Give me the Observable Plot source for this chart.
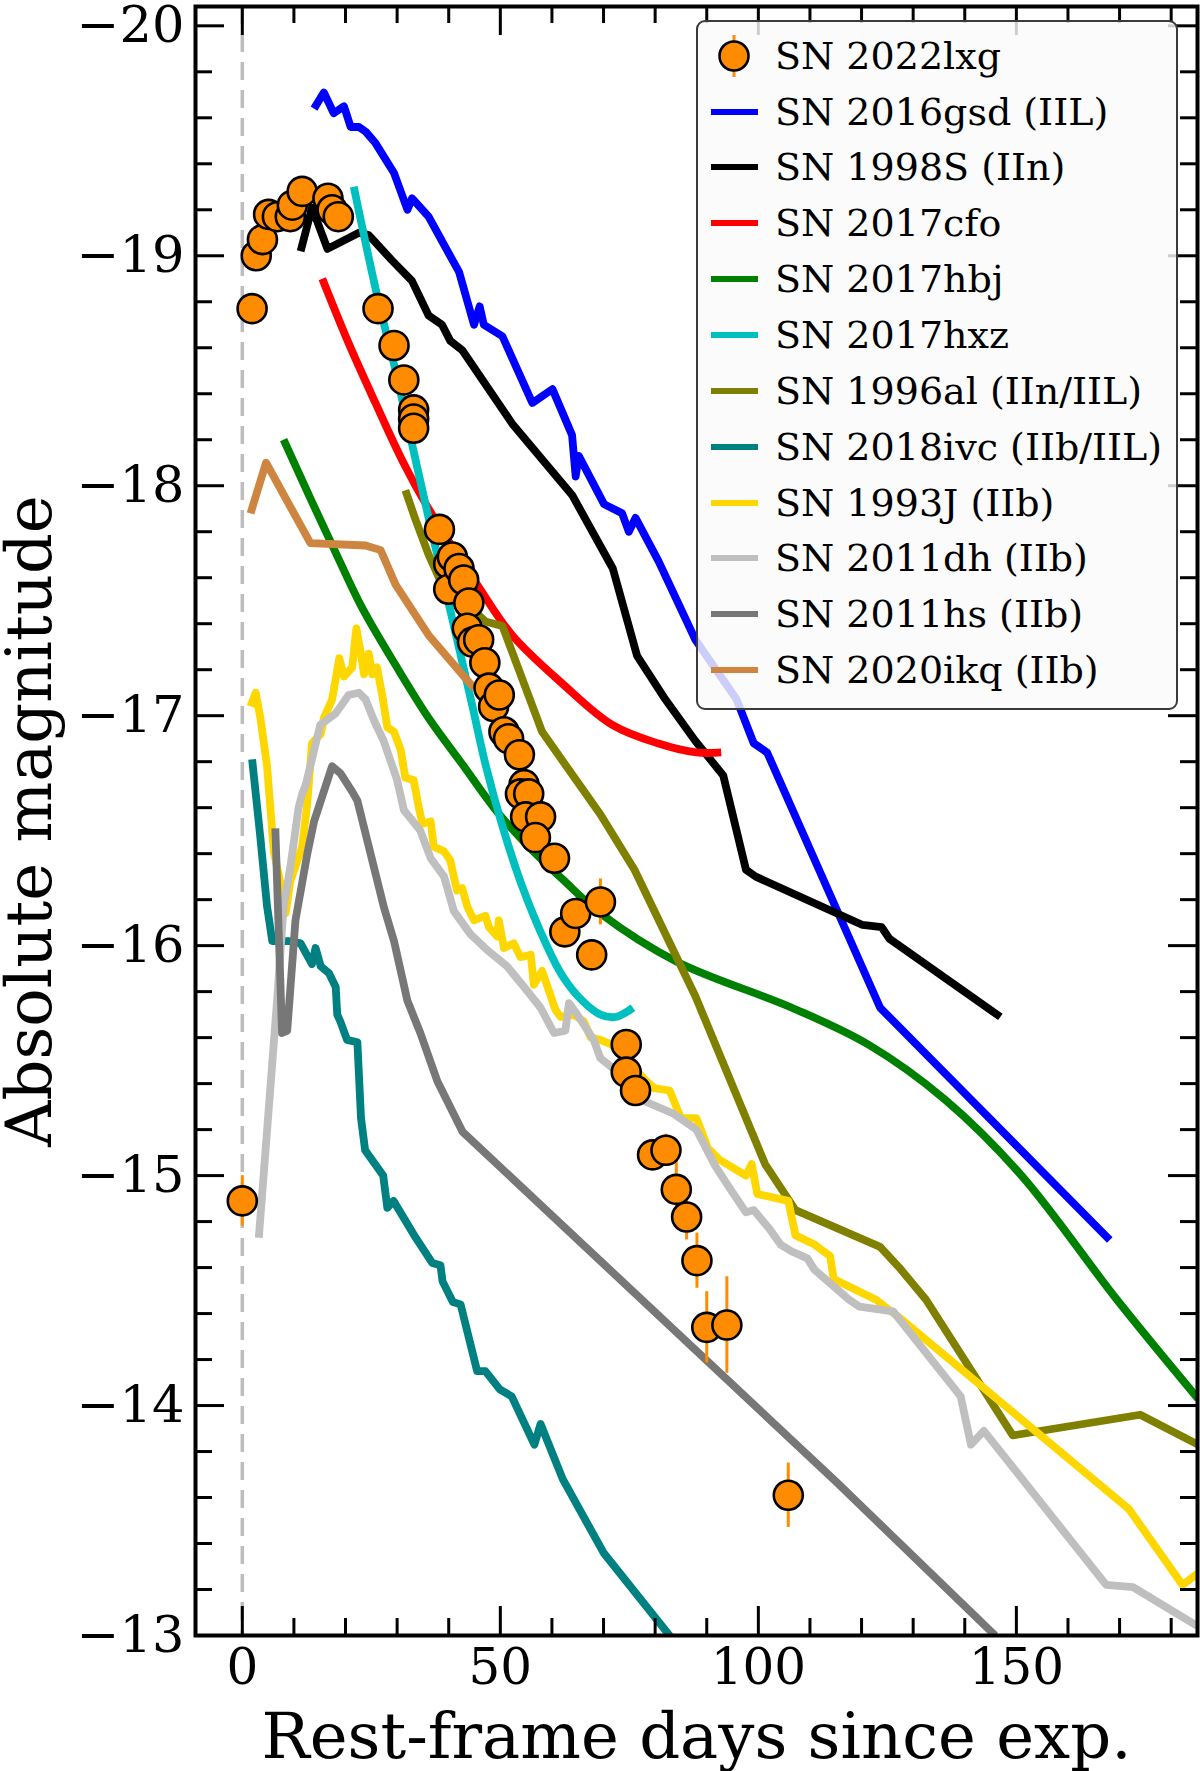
<!DOCTYPE html>
<html>
<head>
<meta charset="utf-8">
<script src="https://cdn.jsdelivr.net/npm/d3@7"></script>
<script src="https://cdn.jsdelivr.net/npm/@observablehq/plot@0.6"></script>
<style>
  body { margin: 0; background: #fff; }
  #chart { position: relative; width: 1200px; height: 1771px; }
  #legend {
    position: absolute; left: 696px; top: 20px; width: 478px; height: 686px;
    border: 2px solid #3a3a3a; border-radius: 9px; background: rgba(250,250,250,0.82);
    font-family: "DejaVu Serif", serif; font-size: 38px; color: #000;
  }
  .row { position: absolute; left: 0; height: 0; }
  .sw { position: absolute; left: 13px; width: 47px; height: 6px; top: -3px; }
  .lab { position: absolute; left: 77px; top: -25px; line-height: 50px; white-space: nowrap; }
  .mk { position: absolute; left: 18px; top: -25px; }
</style>
</head>
<body>
<div id="chart"></div>
<script>
// SN 2022lxg photometry (rest-frame days, absolute mag, error)
const lxgT = [0.0, 1.9, 2.7, 3.9, 5.1, 6.8, 9.3, 9.7, 11.6, 16.6, 17.4, 18.6, 26.3, 29.4, 31.3, 33.2, 33.2, 33.2,
  38.2, 40.0, 40.0, 40.7, 42.0, 42.9, 43.9, 43.6, 44.6, 45.8, 47.0, 47.8, 48.7, 49.8, 50.7, 51.6, 53.7, 54.6, 53.9,
  55.5, 54.9, 57.8, 56.8, 60.5, 62.5, 64.6, 67.7, 69.4, 74.4, 74.4, 76.2, 79.5, 82.1, 84.1, 86.1, 88.1, 90.0, 93.9, 105.8];
const lxgM = [-14.89, -18.77, -19.00, -19.07, -19.18, -19.17, -19.17, -19.22, -19.28, -19.25, -19.20, -19.17, -18.77, -18.61, -18.46, -18.33, -18.29, -18.25,
  -17.81, -17.66, -17.55, -17.69, -17.64, -17.59, -17.49, -17.38, -17.32, -17.33, -17.23, -17.12, -17.04, -17.09, -16.93, -16.90, -16.83, -16.70, -16.66,
  -16.66, -16.56, -16.56, -16.47, -16.38, -16.06, -16.14, -15.96, -16.19, -15.57, -15.45, -15.37, -15.09, -15.11, -14.94, -14.82, -14.63, -14.34, -14.35, -13.61];
const lxgE = [0.11, 0.03, 0.03, 0.03, 0.03, 0.03, 0.03, 0.03, 0.03, 0.03, 0.03, 0.03, 0.03, 0.03, 0.03, 0.03, 0.03, 0.03,
  0.03, 0.03, 0.03, 0.03, 0.03, 0.03, 0.03, 0.03, 0.03, 0.03, 0.03, 0.03, 0.03, 0.03, 0.03, 0.03, 0.03, 0.03, 0.03,
  0.03, 0.03, 0.03, 0.03, 0.03, 0.03, 0.03, 0.03, 0.10, 0.03, 0.03, 0.03, 0.05, 0.07, 0.14, 0.10, 0.12, 0.155, 0.21, 0.14];

// comparison light curves: [day, mag]
const sn2016gsd = [[13.9,-19.64],[15.8,-19.71],[17.7,-19.62],[19.7,-19.65],[21.0,-19.56],[22.6,-19.56],[23.9,-19.54],[25.8,-19.49],
  [29.4,-19.36],[32.0,-19.20],[32.9,-19.25],[36.1,-19.17],[41.0,-18.97],[42.0,-18.93],[44.9,-18.70],[46.0,-18.78],[46.8,-18.70],
  [50.4,-18.65],[56.2,-18.36],[60.1,-18.42],[63.9,-18.22],[64.6,-18.04],[65.2,-18.13],[70.1,-17.92],[73.6,-17.88],[74.9,-17.80],
  [76.2,-17.86],[80.7,-17.67],[87.8,-17.33],[95.8,-17.07],[99.1,-16.88],[101.7,-16.84],[123.6,-15.73],[168.1,-14.72]];
const sn1998S = [[11.3,-19.02],[13.5,-19.21],[16.5,-19.03],[22.6,-19.10],[24.5,-19.09],[29.0,-18.98],[32.9,-18.89],[36.1,-18.74],
  [38.7,-18.70],[40.3,-18.63],[42.6,-18.59],[52.3,-18.27],[63.9,-17.96],[71.8,-17.64],[76.5,-17.26],[82.0,-17.07],[87.8,-16.89],
  [93.2,-16.74],[97.6,-16.33],[99.5,-16.30],[120.2,-16.09],[123.9,-16.08],[125.4,-16.03],[146.9,-15.69]];
const sn2017cfo = [[15.5,-18.90],[20.6,-18.62],[25.8,-18.36],[31.0,-18.11],[36.1,-17.90],[45.8,-17.56],[52.3,-17.35],[62.0,-17.14],
  [71.7,-16.96],[80.5,-16.88],[88.0,-16.84],[92.8,-16.84]];
const sn2017hbj = [[8.0,-18.20],[13.5,-17.93],[18.7,-17.68],[23.2,-17.47],[29.7,-17.22],[36.1,-16.99],[42.6,-16.79],[49.1,-16.59],
  [55.5,-16.43],[62.0,-16.29],[69.4,-16.14],[84.2,-15.93],[106.5,-15.73],[121.3,-15.57],[136.2,-15.33],[151.0,-15.00],
  [169.5,-14.46],[185.2,-14.03]];
const sn2017hxz = [[21.6,-19.30],[26.1,-18.83],[29.7,-18.50],[32.9,-18.18],[36.1,-17.86],[40.7,-17.42],[44.6,-17.04],[47.1,-16.79],
  [50.4,-16.52],[54.2,-16.26],[58.8,-16.01],[62.0,-15.87],[65.9,-15.76],[69.4,-15.70],[72.4,-15.69],[75.7,-15.73]];
const sn1996al = [[31.6,-17.98],[33.6,-17.85],[36.1,-17.70],[38.1,-17.60],[47.1,-17.41],[50.4,-17.39],[58.1,-16.93],[69.4,-16.57],
  [76.0,-16.33],[87.8,-15.78],[101.3,-15.05],[107.2,-14.85],[123.6,-14.69],[127.3,-14.60],[132.5,-14.46],[149.3,-13.87],
  [174.0,-13.96],[185.2,-13.83]];
const sn2018ivc = [[1.9,-16.81],[3.5,-16.47],[4.8,-16.17],[5.8,-16.02],[9.0,-16.02],[11.3,-16.01],[13.5,-15.92],[14.2,-15.99],
  [15.2,-15.91],[16.8,-15.88],[18.1,-15.82],[18.4,-15.70],[19.0,-15.67],[20.3,-15.59],[22.3,-15.58],[23.0,-15.25],[23.8,-15.11],
  [27.3,-15.00],[28.1,-14.86],[29.3,-14.89],[33.6,-14.73],[36.8,-14.62],[38.4,-14.61],[38.8,-14.54],[40.8,-14.45],[42.3,-14.44],
  [45.5,-14.15],[47.1,-14.15],[49.9,-14.07],[52.2,-14.04],[56.6,-13.83],[57.8,-13.92],[62.1,-13.68],[70.0,-13.36],[83.5,-12.98]];
const sn1993J = [[1.6,-17.04],[2.6,-17.10],[3.5,-16.99],[4.8,-16.78],[6.1,-16.41],[7.4,-16.27],[8.4,-16.14],[9.3,-16.28],
  [11.6,-16.43],[12.6,-16.62],[13.5,-16.88],[15.2,-16.92],[15.8,-16.99],[17.4,-17.07],[18.8,-17.25],[19.7,-17.17],[21.3,-17.21],
  [22.1,-17.38],[22.9,-17.28],[23.6,-17.18],[24.5,-17.27],[25.2,-17.18],[26.1,-17.21],[27.1,-17.09],[28.1,-16.95],[29.4,-16.93],
  [30.7,-16.85],[31.6,-16.73],[33.2,-16.72],[34.2,-16.60],[34.9,-16.53],[36.5,-16.54],[37.1,-16.43],[39.1,-16.41],[40.3,-16.37],
  [41.6,-16.24],[42.6,-16.25],[43.6,-16.17],[44.9,-16.11],[47.1,-16.13],[47.8,-16.08],[49.4,-16.04],[49.7,-16.11],[50.7,-15.99],
  [52.6,-16.01],[53.9,-15.95],[55.9,-15.96],[56.5,-15.83],[58.1,-15.89],[60.7,-15.72],[61.7,-15.69],[64.2,-15.70],[66.2,-15.67],
  [67.5,-15.60],[69.4,-15.59],[71.6,-15.57],[77.9,-15.42],[79.8,-15.38],[82.8,-15.37],[85.0,-15.25],[88.0,-15.25],[90.2,-15.12],
  [92.4,-15.07],[97.6,-15.00],[98.7,-15.05],[99.8,-14.92],[105.8,-14.89],[107.2,-14.74],[110.9,-14.70],[113.9,-14.65],
  [114.6,-14.55],[122.8,-14.46],[128.0,-14.37],[171.8,-13.55],[182.2,-13.22],[185.2,-13.27]];
const sn2011dh = [[3.2,-14.73],[6.8,-15.78],[8.0,-16.17],[9.3,-16.34],[10.9,-16.60],[11.6,-16.66],[12.3,-16.70],[15.1,-16.96],
  [18.1,-17.01],[20.6,-17.09],[22.6,-17.10],[23.9,-17.07],[25.5,-16.98],[27.4,-16.89],[30.0,-16.72],[31.3,-16.59],[34.5,-16.50],
  [36.5,-16.38],[39.1,-16.30],[41.0,-16.15],[44.2,-16.05],[47.5,-15.98],[51.3,-15.91],[54.6,-15.82],[57.8,-15.73],[60.4,-15.62],
  [62.6,-15.63],[63.3,-15.75],[64.9,-15.70],[68.1,-15.59],[69.4,-15.51],[73.9,-15.43],[78.3,-15.32],[83.5,-15.27],[88.0,-15.20],
  [91.7,-15.04],[94.6,-14.94],[97.6,-14.84],[99.1,-14.85],[102.1,-14.77],[104.3,-14.70],[106.5,-14.67],[109.5,-14.64],
  [110.9,-14.59],[117.6,-14.46],[119.6,-14.43],[126.1,-14.41],[139.2,-14.04],[141.2,-13.83],[143.7,-13.89],[167.4,-13.22],
  [172.6,-13.21],[185.2,-13.04]];
const sn2011hs = [[6.4,-16.51],[7.7,-15.62],[8.7,-15.63],[10.3,-16.11],[12.6,-16.40],[13.9,-16.54],[17.4,-16.78],[19.0,-16.75],
  [21.3,-16.67],[22.3,-16.63],[27.4,-16.17],[29.4,-16.02],[32.0,-15.76],[34.5,-15.62],[37.8,-15.41],[42.7,-15.19],[115.0,-13.67],
  [145.9,-13.0]];
const sn2020ikq = [[1.6,-17.88],[4.6,-18.10],[13.2,-17.75],[23.9,-17.74],[26.8,-17.72],[29.7,-17.57],[36.1,-17.35],[44.9,-17.12]];

const names = ["SN 2022lxg", "SN 2016gsd (IIL)", "SN 1998S (IIn)", "SN 2017cfo", "SN 2017hbj", "SN 2017hxz",
  "SN 1996al (IIn/IIL)", "SN 2018ivc (IIb/IIL)", "SN 1993J (IIb)", "SN 2011dh (IIb)", "SN 2011hs (IIb)", "SN 2020ikq (IIb)"];
const colors = ["darkorange", "#0000ff", "#000000", "#ff0000", "#008000", "#00bfbf",
  "#808000", "#008080", "#ffd700", "#bfbfbf", "#777777", "#cd853f"];
const curves = [null, sn2016gsd, sn1998S, sn2017cfo, sn2017hbj, sn2017hxz, sn1996al, sn2018ivc, sn1993J, sn2011dh, sn2011hs, sn2020ikq];
const smooth = ["SN 2017cfo", "SN 2017hbj", "SN 2017hxz"];

const xMajor = [0, 50, 100, 150];
const yMajor = [-20, -19, -18, -17, -16, -15, -14, -13];

const W = 1200, H = 1771;
const mL = 195, mR = 3, mT = 6, mB = 136;
const frameH = H - mT - mB, frameW = W - mL - mR;
const font = '"DejaVu Serif", serif';

const xMinor = d3.range(10, 190, 10).filter(v => v % 50 !== 0);
const yMinor = d3.range(-100, -64).map(v => v / 5).filter(v => !Number.isInteger(v));

const lxg = lxgT.map((t, i) => ({t, m: lxgM[i], e: lxgE[i]}));

const lineMarks = curves.slice(1).map((c, k) => Plot.line(c, {
  x: d => d[0], y: d => d[1], stroke: colors[k + 1], strokeWidth: 7.8, clip: true,
  strokeLinecap: "butt", strokeLinejoin: "round",
  curve: smooth.includes(names[k + 1]) ? "catmull-rom" : "linear"
}));

const tickStyle = {stroke: "black", strokeWidth: 3};

const chart = Plot.plot({
  width: W, height: H,
  marginLeft: mL, marginRight: mR, marginTop: mT, marginBottom: mB,
  x: {domain: [-9.07, 185.1]},
  y: {domain: [-13, -20.084]},
  style: {fontFamily: font, background: "white", color: "black"},
  marks: [
    Plot.ruleX([0], {stroke: "#bdbdbd", strokeWidth: 3.5, strokeDasharray: "18,10"}),
    ...lineMarks,
    Plot.ruleX(lxg, {x: "t", y1: d => d.m - d.e, y2: d => d.m + d.e, stroke: "darkorange", strokeWidth: 3}),
    Plot.dot(lxg, {x: "t", y: "m", r: 14.5, fill: "darkorange", stroke: "black", strokeWidth: 2.6}),
    // inward ticks on all four sides
    Plot.ruleX(xMajor, {x: d => d, insetTop: frameH - 29, ...tickStyle}),
    Plot.ruleX(xMinor, {x: d => d, insetTop: frameH - 17, ...tickStyle}),
    Plot.ruleX(xMajor, {x: d => d, insetBottom: frameH - 29, ...tickStyle}),
    Plot.ruleX(xMinor, {x: d => d, insetBottom: frameH - 17, ...tickStyle}),
    Plot.ruleY(yMajor, {y: d => d, insetRight: frameW - 29, ...tickStyle}),
    Plot.ruleY(yMinor, {y: d => d, insetRight: frameW - 17, ...tickStyle}),
    Plot.ruleY(yMajor, {y: d => d, insetLeft: frameW - 29, ...tickStyle}),
    Plot.ruleY(yMinor, {y: d => d, insetLeft: frameW - 17, ...tickStyle}),
    Plot.frame({stroke: "black", strokeWidth: 4}),
    Plot.axisX({ticks: xMajor, tickSize: 0, tickPadding: 13, fontSize: 50, label: null, fontFamily: font}),
    Plot.axisY({ticks: yMajor, tickSize: 0, tickPadding: 11, fontSize: 51, label: null, fontFamily: font,
      tickFormat: d => "\u2212" + Math.abs(d)}),
    Plot.text(["Rest-frame days since exp."], {frameAnchor: "bottom", lineAnchor: "bottom", dy: 122,
      fontSize: 64, fontFamily: font}),
    Plot.text(["Absolute magnitude"], {frameAnchor: "left", textAnchor: "middle", lineAnchor: "bottom",
      rotate: -90, dx: -145, fontSize: 64, fontFamily: font})
  ]
});

const holder = document.querySelector("#chart");
holder.append(chart);

// legend drawn over the upper right of the plot frame
const legend = d3.select(holder).append("div").attr("id", "legend");
names.forEach((name, i) => {
  const row = legend.append("div").attr("class", "row").style("top", (33.7 + i * 55.85) + "px");
  if (i === 0) {
    const svg = row.append("svg").attr("class", "mk").attr("width", 36).attr("height", 50);
    svg.append("line").attr("x1", 18).attr("x2", 18).attr("y1", 4).attr("y2", 46)
      .attr("stroke", colors[0]).attr("stroke-width", 3);
    svg.append("circle").attr("cx", 18).attr("cy", 25).attr("r", 14.5)
      .attr("fill", colors[0]).attr("stroke", "black").attr("stroke-width", 2.6);
  } else {
    row.append("div").attr("class", "sw").style("background", colors[i]);
  }
  row.append("div").attr("class", "lab").text(name);
});
</script>
</body>
</html>
